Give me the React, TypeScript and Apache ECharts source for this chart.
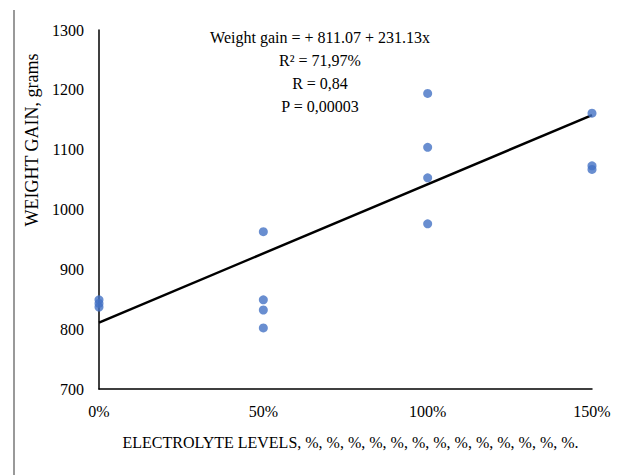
import React, { useEffect, useRef } from "react";
import * as echarts from "echarts";

const xValues0 = [0, 0, 0];
const yValues0 = [849, 843, 837];
const xValues50 = [0.5, 0.5, 0.5, 0.5];
const yValues50 = [963, 849, 832, 802];
const xValues100 = [1, 1, 1, 1];
const yValues100 = [1194, 1104, 1053, 976];
const xValues150 = [1.5, 1.5, 1.5];
const yValues150 = [1161, 1073, 1067];

const intercept = 811.07;
const slope = 231.13;
const lineX = [0, 1.5];

const annotationLines = [
  "Weight gain = + 811.07 + 231.13x",
  "R² = 71,97%",
  "R = 0,84",
  "P = 0,00003",
];

const xName = "ELECTROLYTE LEVELS, %, %, %, %, %, %, %, %, %, %, %, %, %.";
const yName = "WEIGHT GAIN, grams";

const FONT = "'Liberation Serif', 'Times New Roman', serif";

export default function App() {
  const ref = useRef<HTMLDivElement>(null);
  useEffect(() => {
    if (!ref.current) return;
    const chart = echarts.init(ref.current, undefined, { renderer: "svg" });
    const pts: number[][] = [];
    [
      [xValues0, yValues0],
      [xValues50, yValues50],
      [xValues100, yValues100],
      [xValues150, yValues150],
    ].forEach(([xs, ys]) => xs.forEach((x, i) => pts.push([x, ys[i]])));
    const lineData = lineX.map((x) => [x, intercept + slope * x]);

    chart.setOption({
      animation: false,
      backgroundColor: "#ffffff",
      grid: { left: 99, right: 33, top: 30, bottom: 86, containLabel: false },
      xAxis: {
        type: "value",
        min: 0,
        max: 1.5,
        interval: 0.5,
        name: xName,
        nameLocation: "middle",
        nameGap: 45,
        nameTextStyle: { fontFamily: FONT, fontSize: 16, color: "#000", padding: [0, 0, 0, 10] },
        axisLine: { show: true, lineStyle: { color: "#000", width: 1.5 } },
        axisTick: { show: false },
        splitLine: { show: false },
        axisLabel: {
          fontFamily: FONT,
          fontSize: 16,
          color: "#000",
          margin: 14,
          formatter: (v: number) => Math.round(v * 100) + "%",
        },
      },
      yAxis: {
        type: "value",
        min: 700,
        max: 1300,
        interval: 100,
        axisLine: { show: true, lineStyle: { color: "#000", width: 1.5 } },
        axisTick: { show: false },
        splitLine: { show: false },
        axisLabel: {
          fontFamily: FONT,
          fontSize: 16,
          color: "#000",
          margin: 15,
          formatter: (v: number) => String(v),
        },
      },
      graphic: [
        {
          type: "line",
          shape: { x1: 14, y1: 10, x2: 14, y2: 475 },
          style: { stroke: "#777", lineWidth: 1.5 },
        },
        {
          type: "text",
          x: 32,
          y: 140,
          rotation: Math.PI / 2,
          style: {
            text: yName,
            fontFamily: FONT,
            fontSize: 18,
            fill: "#000",
            textAlign: "center",
            textVerticalAlign: "middle",
          },
        },
        ...annotationLines.map((t, i) => ({
          type: "text",
          x: 320,
          y: 37 + i * 23,
          style: {
            text: t,
            fontFamily: FONT,
            fontSize: 16,
            fill: "#000",
            textAlign: "center",
            textVerticalAlign: "middle",
          },
        })),
      ],
      series: [
        {
          type: "line",
          data: lineData,
          symbol: "none",
          lineStyle: { color: "#000", width: 2.5 },
          z: 3,
        },
        {
          type: "scatter",
          data: pts,
          symbolSize: 9,
          itemStyle: { color: "#4472C4" },
          z: 4,
        },
      ],
    });
    return () => chart.dispose();
  }, []);
  return <div ref={ref} style={{ width: 625, height: 475, marginLeft: -8, marginTop: -8 }} />;
}
